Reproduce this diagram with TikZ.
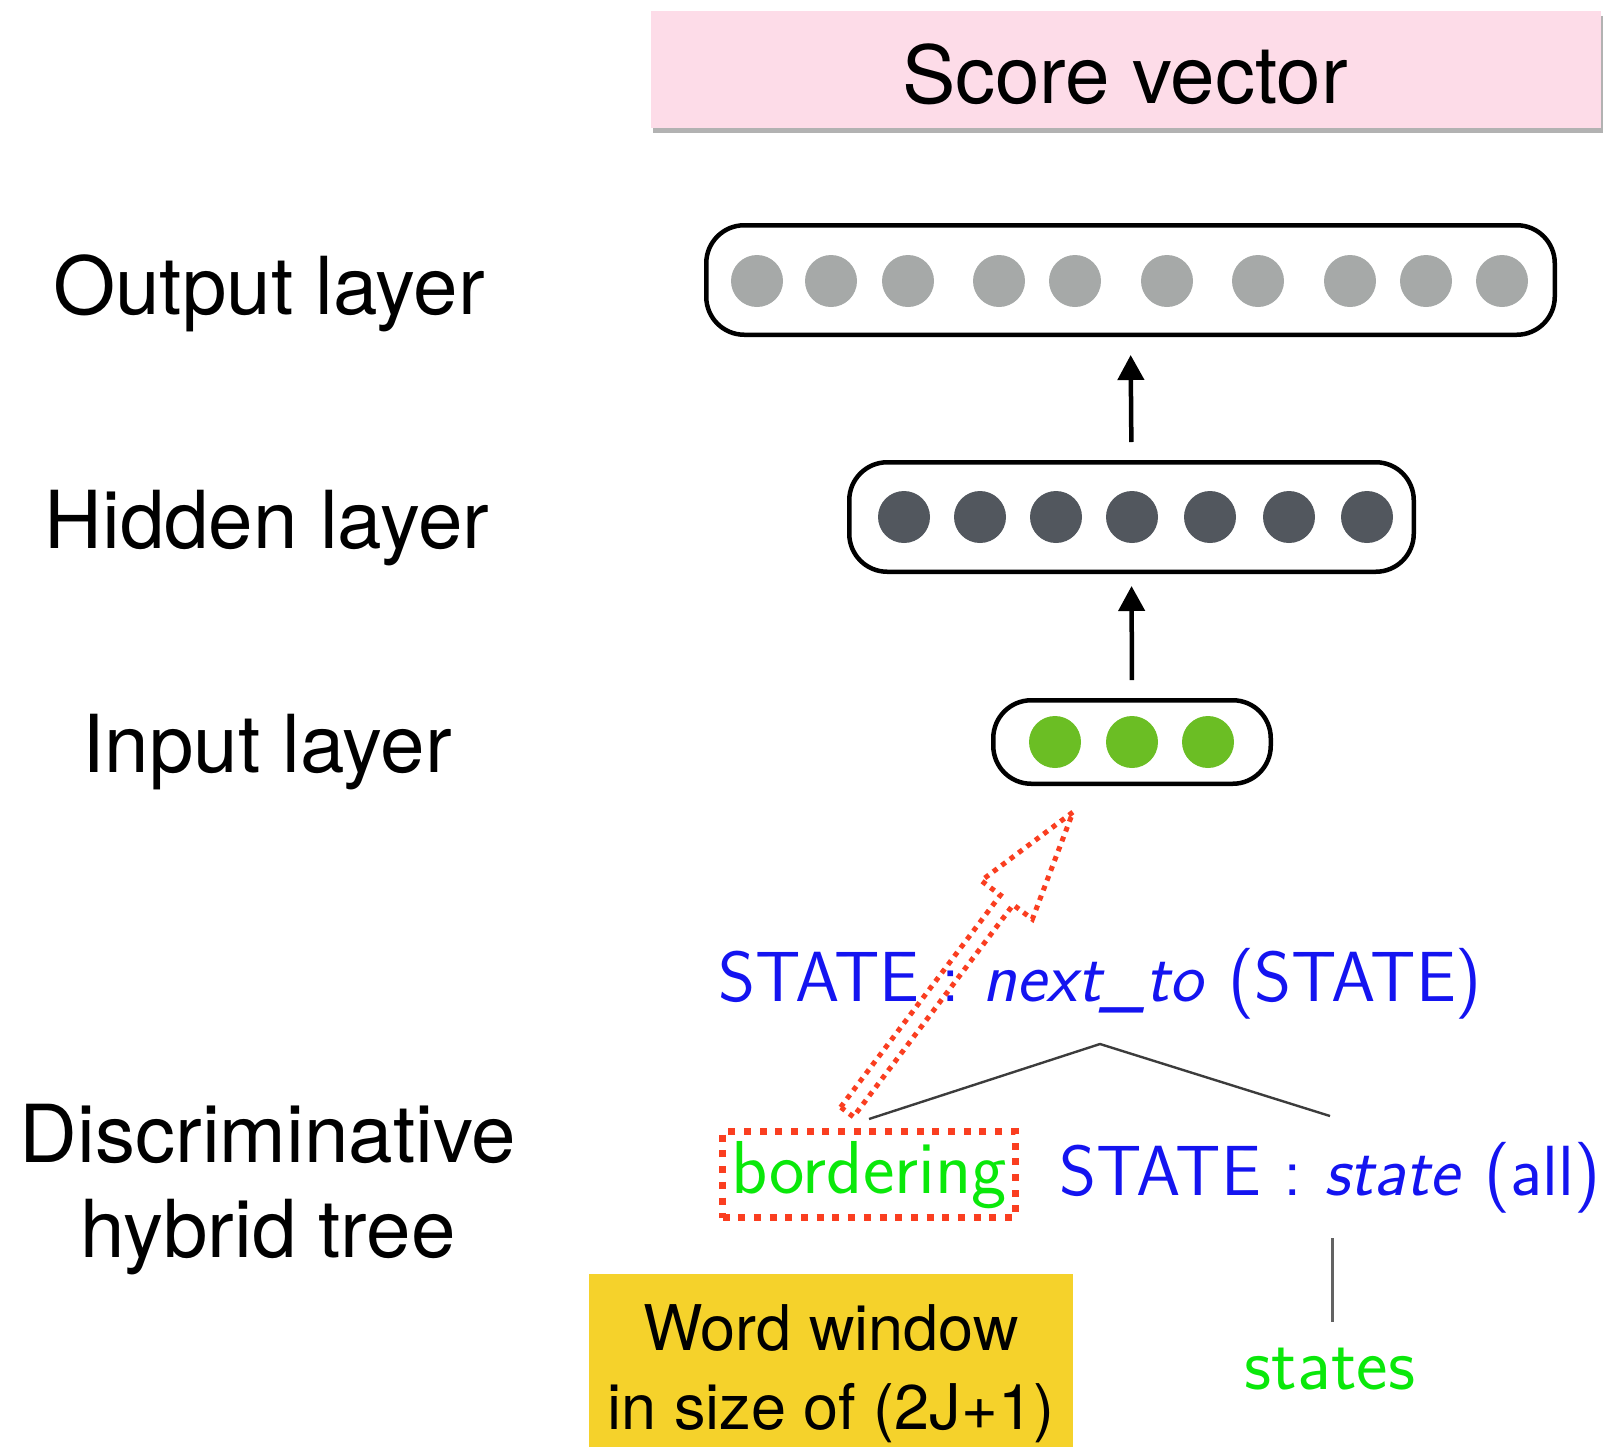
\documentclass[tikz,border=0pt]{standalone}
\usepackage{fontspec}
\setmainfont{TeX Gyre Heros}
\usetikzlibrary{arrows.meta,calc,shadows}

\definecolor{scorepink}{RGB}{253,220,232}
\definecolor{winyellow}{RGB}{245,210,43}
\definecolor{outgrey}{RGB}{166,169,168}
\definecolor{hidgrey}{RGB}{82,87,94}
\definecolor{ingreen}{RGB}{107,190,36}
\definecolor{treeblue}{RGB}{20,20,240}
\definecolor{treegreen}{RGB}{10,232,10}
\definecolor{dotred}{RGB}{250,62,32}
\definecolor{treeline}{RGB}{60,60,60}

\begin{document}
\begin{tikzpicture}[x=1pt,y=-1pt,
  layerbox/.style={draw=black, line width=4.5pt, rounded corners=38pt, inner sep=0pt},
  unit/.style={circle, inner sep=0pt, minimum size=52pt},
  outunit/.style={unit, fill=outgrey},
  hidunit/.style={unit, fill=hidgrey},
  inunit/.style={unit, fill=ingreen},
  layerlabel/.style={anchor=base, inner sep=0pt, font=\fontsize{80}{96}\selectfont},
  winlabel/.style={anchor=base, inner sep=0pt, font=\fontsize{63}{76}\selectfont},
  treesym/.style={anchor=base, inner sep=0pt, text=treeblue, font=\sffamily\fontsize{71}{85}\selectfont},
  treeword/.style={anchor=base, inner sep=0pt, text=treegreen, font=\sffamily\fontsize{75}{90}\selectfont},
  treeedge/.style={draw=treeline, line width=2.4pt},
  uparrow/.style={-{Triangle[length=25pt,width=26pt]}, line width=4.5pt},
  reddots/.style={draw=dotred, line width=5pt, dash pattern=on 5pt off 5.5pt},
]
\useasboundingbox (0,0) rectangle (1613,1446);

% score vector banner
\node[fill=scorepink, minimum width=950pt, minimum height=117pt, inner sep=0pt,
      drop shadow={shadow xshift=2pt, shadow yshift=-5pt, fill=black!60, opacity=0.5}]
  (scorebox) at (1126,69.5) {};
\node[layerlabel] (scoretext) at (1125,103) {Score vector};

% layer labels
\node[layerlabel] (outlbl) at (269,314) {Output layer};
\node[layerlabel] (hidlbl) at (267,548) {Hidden layer};
\node[layerlabel] (inlbl) at (267,772) {Input layer};
\node[layerlabel] (treelbla) at (268,1162) {Discriminative};
\node[layerlabel] (treelblb) at (268,1257) {hybrid tree};

% output layer
\node[layerbox, minimum width=848.5pt, minimum height=109.5pt] (outbox) at (1130.5,280) {};
\foreach \x [count=\i] in {757,831,908,999,1075,1167,1258,1350,1426,1502}
  \node[outunit] (o\i) at (\x,281) {};

% hidden layer
\node[layerbox, minimum width=564.5pt, minimum height=109.5pt] (hidbox) at (1131.5,517) {};
\foreach \x [count=\i] in {904,980,1056,1132,1210,1289,1367}
  \node[hidunit] (h\i) at (\x,517) {};

% input layer
\node[layerbox, minimum width=277.5pt, minimum height=83.5pt] (inbox) at (1132,742) {};
\foreach \x [count=\i] in {1055,1132,1208}
  \node[inunit] (i\i) at (\x,742) {};

% feed-forward arrows
\draw[uparrow, shorten <=18pt, shorten >=18pt] (hidbox.north) -- (outbox.south);
\draw[uparrow, shorten <=18pt, shorten >=12pt] (inbox.north) -- (hidbox.south);

% hybrid tree
\node[treesym] (parent) at (1100,1001) {STATE : \textit{next\_to} (STATE)};
\node[treeword, draw=dotred, line width=7pt, dash pattern=on 7pt off 8.7pt,
      minimum width=293pt, minimum height=86pt] (bord) at (869,1193) {bordering};
\node[treesym] (child) at (1330,1195) {STATE : \textit{state} (all)};
\node[treeword] (leaf) at (1330,1389) {states};

\coordinate (apex) at (1100,1044);
\coordinate (lend) at (869,1119);
\coordinate (rend) at (1330,1116);
\coordinate (vtop) at (1332,1238);
\coordinate (vbot) at (1332,1322);
\draw[treeedge] (lend) -- (apex) -- (rend);
\draw[draw=treeline!80, line width=3pt] (vtop) -- (vbot);

% hollow dotted arrow from the word window to the input layer
\coordinate (wtail) at (847,1112);
\coordinate (wtip) at (1073,812);
\coordinate (wbase) at ($(wtail)!0.707!(wtip)$);
\draw[reddots]
  ($(wtail)!8pt!90:(wtip)$) -- ($(wbase)!8pt!-90:(wtail)$) -- ($(wbase)!32pt!-90:(wtail)$)
  -- (wtip) -- ($(wbase)!32pt!90:(wtail)$) -- ($(wbase)!8pt!90:(wtail)$)
  -- ($(wtail)!8pt!-90:(wtip)$) -- cycle;

% word window note
\node[fill=winyellow, minimum width=484pt, minimum height=175pt, inner sep=0pt] (winbox) at (831,1361.5) {};
\node[winlabel] (wina) at (831,1350) {Word window};
\node[winlabel] (winb) at (831,1429) {in size of (2J+1)};
\end{tikzpicture}
\end{document}
